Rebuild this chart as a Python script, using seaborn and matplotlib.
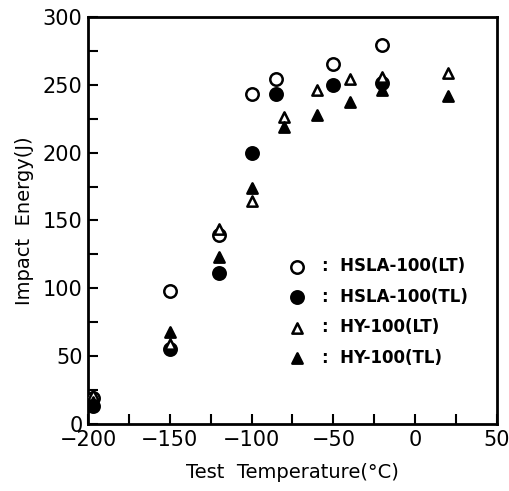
import matplotlib
matplotlib.use("Agg")
import matplotlib.pyplot as plt
import seaborn as sns
import pandas as pd
from matplotlib.ticker import MultipleLocator

sns.set_theme(style="white")
plt.rcParams['font.family'] = ['DejaVu Sans']
plt.rcParams['text.color'] = 'black'
plt.rcParams['axes.labelcolor'] = 'black'
plt.rcParams['xtick.color'] = 'black'
plt.rcParams['ytick.color'] = 'black'

# HSLA-100 (LT) open circles
hsla_lt_x = [-197, -150, -120, -100, -85, -50, -20]
hsla_lt_y = [19, 98, 139, 243, 254, 265, 279]
# HSLA-100 (TL) filled circles
hsla_tl_x = [-197, -150, -120, -100, -85, -50, -20]
hsla_tl_y = [13, 55, 111, 200, 243, 250, 251]
# HY-100 (LT) open triangles
hy_lt_x = [-197, -150, -120, -100, -80, -60, -40, -20, 20]
hy_lt_y = [21, 59, 144, 164, 226, 246, 254, 256, 259]
# HY-100 (TL) filled triangles
hy_tl_x = [-197, -150, -120, -100, -80, -60, -40, -20, 20]
hy_tl_y = [16, 68, 123, 174, 219, 228, 237, 246, 242]

series_labels = [":  HSLA-100(LT)", ":  HSLA-100(TL)", ":  HY-100(LT)", ":  HY-100(TL)"]

df = pd.concat([
    pd.DataFrame({"T": hsla_lt_x, "E": hsla_lt_y, "s": series_labels[0]}),
    pd.DataFrame({"T": hsla_tl_x, "E": hsla_tl_y, "s": series_labels[1]}),
    pd.DataFrame({"T": hy_lt_x, "E": hy_lt_y, "s": series_labels[2]}),
    pd.DataFrame({"T": hy_tl_x, "E": hy_tl_y, "s": series_labels[3]}),
])

fig = plt.figure(figsize=(5.10, 4.91), dpi=100)
ax = fig.add_axes([0.1725, 0.1365, 0.802, 0.829])

styles = {
    series_labels[0]: dict(marker="o", facecolor="white", s=80),
    series_labels[1]: dict(marker="o", facecolor="black", s=80),
    series_labels[2]: dict(marker="^", facecolor="white", s=55),
    series_labels[3]: dict(marker="^", facecolor="black", s=55),
}
for lab in series_labels:
    st = styles[lab]
    sub = df[df["s"] == lab]
    sns.scatterplot(data=sub, x="T", y="E", ax=ax, marker=st["marker"],
                    facecolor=st["facecolor"], edgecolor="black",
                    linewidth=1.8, s=st["s"], label=lab, zorder=3)

ax.set_xlim(-200, 50)
ax.set_ylim(0, 300)
ax.xaxis.set_major_locator(MultipleLocator(50))
ax.xaxis.set_minor_locator(MultipleLocator(25))
ax.yaxis.set_major_locator(MultipleLocator(50))
ax.yaxis.set_minor_locator(MultipleLocator(25))
ax.tick_params(axis="both", which="both", direction="in", bottom=True, left=True,
               top=False, right=False, width=1.5, color="black")
ax.tick_params(axis="both", which="major", length=7, labelsize=15, pad=4)
ax.tick_params(axis="both", which="minor", length=7)
for sp in ax.spines.values():
    sp.set_color("black")
    sp.set_linewidth(2)

ax.set_xlabel("Test  Temperature(°C)", fontsize=14, labelpad=10)
ax.set_ylabel("Impact  Energy(J)", fontsize=14, labelpad=6)

leg = ax.legend(loc="upper left", bbox_to_anchor=(0.45, 0.43), frameon=False,
                prop={"size": 12, "weight": "bold"}, handletextpad=0.5,
                labelspacing=0.75, borderpad=0)
fig.savefig("out.png", dpi=100)
